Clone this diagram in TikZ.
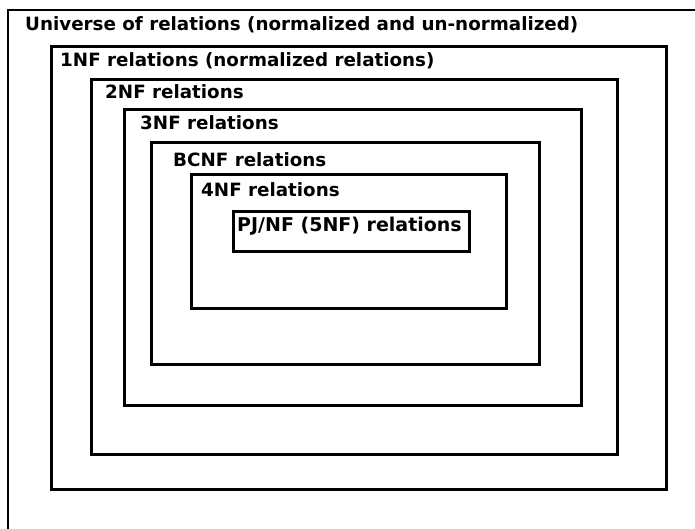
\documentclass[tikz,border=0pt]{standalone}
\usepackage{fontspec}
\setmainfont{DejaVu Sans}
\begin{document}
\begin{tikzpicture}[x=1pt,y=-1pt,
  setbox/.style={draw=black, line width=2.6pt, fill=none, inner sep=0pt, anchor=north west},
  setlabel/.style={font=\bfseries\fontsize{18.3}{20}\selectfont, inner sep=0pt, anchor=base west}]
  \useasboundingbox[fill=white] (0,0) rectangle (695,529);
  % universe: open towards the right and bottom edges
  \coordinate (ubl) at (8,529);
  \coordinate (utl) at (8,10);
  \coordinate (utr) at (695,10);
  \draw[line width=2.2pt] (ubl) -- (utl) -- (utr);
  % nested classes of relations
  \node[setbox, minimum width=615pt, minimum height=443pt] (nf1) at (50,45) {};
  \node[setbox, minimum width=526pt, minimum height=375pt] (nf2) at (90,78) {};
  \node[setbox, minimum width=457pt, minimum height=296pt] (nf3) at (123,108) {};
  \node[setbox, minimum width=388pt, minimum height=222pt] (bcnf) at (150,141) {};
  \node[setbox, minimum width=315pt, minimum height=134pt] (nf4) at (190,173) {};
  \node[setbox, minimum width=236pt, minimum height=40pt] (pjnf) at (232,210) {};
  % labels
  \node[setlabel] (tu) at (25,31) {Universe of relations (normalized and un-normalized)};
  \node[setlabel] (t1) at (60,67) {1NF relations (normalized relations)};
  \node[setlabel] (t2) at (105,99) {2NF relations};
  \node[setlabel] (t3) at (140,130) {3NF relations};
  \node[setlabel] (tb) at (173,167) {BCNF relations};
  \node[setlabel] (t4) at (201,197) {4NF relations};
  \node[setlabel, font=\bfseries\fontsize{19}{21}\selectfont] (t5) at (237,232) {PJ/NF (5NF) relations};
\end{tikzpicture}
\end{document}
